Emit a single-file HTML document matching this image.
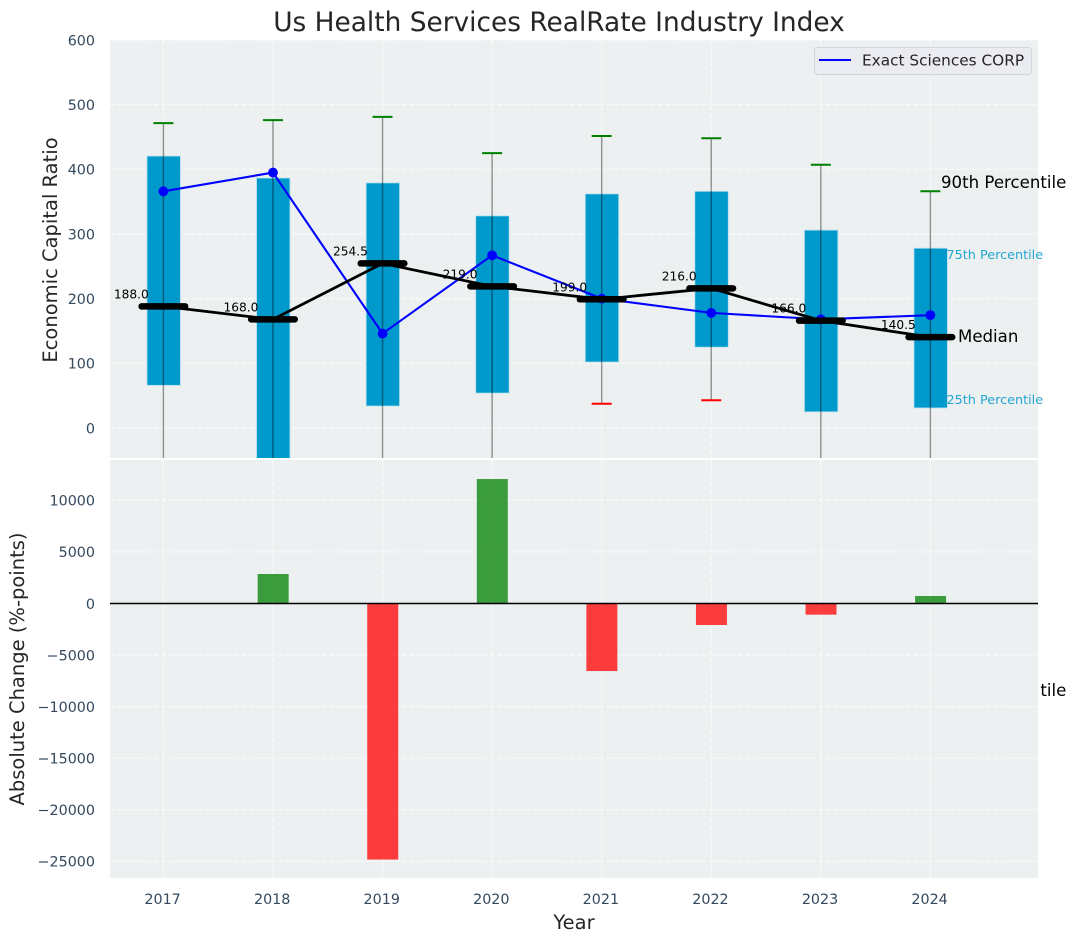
<!DOCTYPE html>
<html lang="en">
<head>
<meta charset="utf-8">
<title>Us Health Services RealRate Industry Index</title>
<style>
html,body{margin:0;padding:0;background:#fff;width:1076px;height:942px;overflow:hidden}
svg{display:block;font-family:"DejaVu Sans","Liberation Sans",sans-serif}
</style>
</head>
<body>
<svg id="chart" xmlns="http://www.w3.org/2000/svg" width="1076" height="942" viewBox="0 0 1076 942">
  <defs>
    <clipPath id="topClip"><rect x="110" y="40" width="928" height="418"/></clipPath>
    <clipPath id="botClip"><rect x="110" y="460" width="928" height="418"/></clipPath>
    <clipPath id="tenthClip"><rect x="1040.5" y="670" width="35.5" height="40"/></clipPath>
  </defs>
  <text x="559" y="31" text-anchor="middle" font-size="26.4px" fill="#262626">Us Health Services RealRate Industry Index</text>

  <g id="topPanel">
    <rect x="110" y="40" width="928" height="418" fill="#ecf0f1"/>
    <g id="topGrid"></g>
    <g id="topMarks" clip-path="url(#topClip)"></g>
    <g id="medianLabels"></g>
    <text x="941" y="188" font-size="16.6px" fill="#000">90th Percentile</text>
    <text x="946.5" y="259" font-size="12.8px" fill="#0099cc" fill-opacity="0.85">75th Percentile</text>
    <text x="958" y="342" font-size="16.6px" fill="#000">Median</text>
    <text x="946.5" y="404" font-size="12.8px" fill="#0099cc" fill-opacity="0.85">25th Percentile</text>
    <text x="941" y="696" font-size="16.6px" fill="#000" clip-path="url(#tenthClip)">10th Percentile</text>
    <g>
      <rect x="814.5" y="47.5" width="217" height="27" rx="3" fill="#eaecf1" stroke="#d3d5da" stroke-width="1"/>
      <line x1="819" y1="60" x2="851" y2="60" stroke="#0000ff" stroke-width="2.1"/>
      <text x="862" y="65.5" font-size="15.3px" fill="#262626">Exact Sciences CORP</text>
    </g>
  </g>

  <g id="botPanel">
    <rect x="110" y="460" width="928" height="418" fill="#ecf0f1"/>
    <g id="botGrid"></g>
    <g id="botMarks" clip-path="url(#botClip)"></g>
  </g>

  <g id="tickLabels"></g>
  <text transform="translate(57,250) rotate(-90)" text-anchor="middle" font-size="19.5px" fill="#262626">Economic Capital Ratio</text>
  <text transform="translate(24,669) rotate(-90)" text-anchor="middle" font-size="19.5px" fill="#262626">Absolute Change (%-points)</text>
  <text x="574" y="929" text-anchor="middle" font-size="19.5px" fill="#262626">Year</text>
</svg>
<script>
const years = [2017, 2018, 2019, 2020, 2021, 2022, 2023, 2024];
const whiskerHigh = [471.5, 476, 481, 425, 451.5, 448, 407, 366];
const boxTop = [420.5, 386.5, 379, 328, 362, 366, 306, 278];
const medians = [188.0, 168.0, 254.5, 219.0, 199.0, 216.0, 166.0, 140.5];
const boxBottom = [66, -60, 34, 54, 102, 125, 25, 31];
const whiskerLow = [-80, -120, -90, -75, 37.5, 43, -70, -60];
const companyValues = [366, 395, 146, 267, 200, 178, 168, 174.5];
const changeValues = [null, 2860, -24830, 12070, -6550, -2085, -1080, 730];
const topTicks = [0, 100, 200, 300, 400, 500, 600];
const bottomTicks = [-25000, -20000, -15000, -10000, -5000, 0, 5000, 10000];

const NS = 'http://www.w3.org/2000/svg';
const xPos = v => 163.4 + (v - 2017) * 109.57;
const yTop = v => 428 - v * 0.6467;
const yBot = v => 603.5 - v * 0.010312;
const byId = id => document.getElementById(id);

function mk(parent, tag, attrs) {
  const el = document.createElementNS(NS, tag);
  for (const k in attrs) el.setAttribute(k, attrs[k]);
  parent.appendChild(el);
  return el;
}
const gridStyle = {stroke: '#ffffff', 'stroke-width': 1.2, 'stroke-dasharray': '5.1 2.2', 'stroke-opacity': 0.7};

years.forEach(function (yr) {
  let g = mk(byId('topGrid'), 'line', Object.assign({x1: xPos(yr), x2: xPos(yr), y1: 40, y2: 458}, gridStyle));
  
  
  g = mk(byId('botGrid'), 'line', Object.assign({x1: xPos(yr), x2: xPos(yr), y1: 460, y2: 878}, gridStyle));
  
  
  const t = mk(byId('tickLabels'), 'text', {x: xPos(yr) - 0.8, y: 904, 'text-anchor': 'middle', 'font-size': '14.3px', fill: '#34495e'});
  t.textContent = String(yr);
  
  
});

topTicks.forEach(function (v) {
  const g = mk(byId('topGrid'), 'line', Object.assign({x1: 110, x2: 1038, y1: yTop(v), y2: yTop(v)}, gridStyle));
  
  
  const t = mk(byId('tickLabels'), 'text', {x: 95, y: yTop(v) + 5.3, 'text-anchor': 'end', 'font-size': '14.3px', fill: '#34495e'});
  t.textContent = String(v);
  
  
});

bottomTicks.forEach(function (v) {
  const g = mk(byId('botGrid'), 'line', Object.assign({x1: 110, x2: 1038, y1: yBot(v), y2: yBot(v)}, gridStyle));
  
  
  const t = mk(byId('tickLabels'), 'text', {x: 95, y: yBot(v) + 5.3, 'text-anchor': 'end', 'font-size': '14.3px', fill: '#34495e'});
  t.textContent = String(v).replace('-', '\u2212');
  
  
});

const topLayer = byId('topMarks');
years.forEach(function (yr, i) {
  const cx = xPos(yr);
  const box = mk(topLayer, 'rect', {x: cx - 16.4, y: yTop(boxTop[i]), width: 33.4, height: yTop(boxBottom[i]) - yTop(boxTop[i]), fill: '#0099cc', stroke: '#b5dfee', 'stroke-width': 0.8});
  
  
});
years.forEach(function (yr, i) {
  const cx = xPos(yr);
  const w = mk(topLayer, 'line', {x1: cx, x2: cx, y1: yTop(whiskerHigh[i]), y2: yTop(whiskerLow[i]), stroke: '#000', 'stroke-opacity': 0.42, 'stroke-width': 1.4});
  
  
  const capHigh = mk(topLayer, 'line', {x1: cx - 10, x2: cx + 10, y1: yTop(whiskerHigh[i]), y2: yTop(whiskerHigh[i]), stroke: '#008000', 'stroke-width': 2});
  
  
  const capLow = mk(topLayer, 'line', {x1: cx - 10, x2: cx + 10, y1: yTop(whiskerLow[i]), y2: yTop(whiskerLow[i]), stroke: '#ff0000', 'stroke-width': 2});
  
  
});

const companyLine = mk(topLayer, 'polyline', {points: years.map((yr, i) => xPos(yr) + ',' + yTop(companyValues[i])).join(' '), fill: 'none', stroke: '#0000ff', 'stroke-width': 2.1});


years.forEach(function (yr, i) {
  const p = mk(topLayer, 'circle', {cx: xPos(yr), cy: yTop(companyValues[i]), r: 4.9, fill: '#0000ff'});
  
  
});

const medianLine = mk(topLayer, 'polyline', {points: years.map((yr, i) => xPos(yr) + ',' + yTop(medians[i])).join(' '), fill: 'none', stroke: '#000', 'stroke-width': 2.8});


years.forEach(function (yr, i) {
  const cx = xPos(yr);
  const m = mk(topLayer, 'line', {x1: cx - 21.8, x2: cx + 21.8, y1: yTop(medians[i]), y2: yTop(medians[i]), stroke: '#000', 'stroke-width': 6.5, 'stroke-linecap': 'round'});
  
  
  const t = mk(byId('medianLabels'), 'text', {x: cx - 14.6, y: yTop(medians[i]) - 8, 'text-anchor': 'end', 'font-size': '12.2px', fill: '#000'});
  t.textContent = medians[i].toFixed(1);
  
  
});

const botLayer = byId('botMarks');
years.forEach(function (yr, i) {
  const v = changeValues[i];
  if (v === null) return;
  const cx = xPos(yr);
  const b = mk(botLayer, 'rect', {x: cx - 15.3, width: 31, y: Math.min(yBot(v), yBot(0)), height: Math.abs(yBot(v) - yBot(0)), fill: v >= 0 ? '#008000' : '#ff0000', 'fill-opacity': 0.75});
  
  
});
const zero = mk(botLayer, 'line', {x1: 110, x2: 1038, y1: yBot(0), y2: yBot(0), stroke: '#000', 'stroke-width': 1.4});


</script>
</body>
</html>
